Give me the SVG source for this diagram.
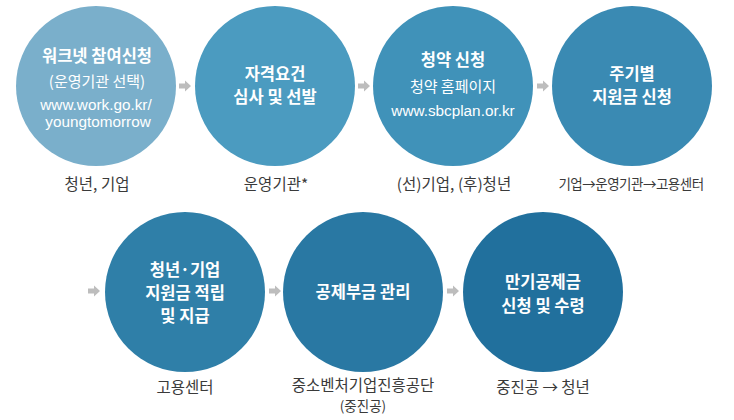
<svg xmlns="http://www.w3.org/2000/svg" width="734" height="420" viewBox="0 0 734 420">
<defs>
<style>
.t{font-family:"Noto Sans CJK KR","Liberation Sans",sans-serif;fill:#fff;text-anchor:middle}
.b{font-weight:bold;font-size:16.5px}
.n{font-size:15px}
.u{font-family:"Liberation Sans","Noto Sans CJK KR",sans-serif;font-size:15.3px;fill:#fff;text-anchor:middle}
.l{font-family:"Noto Sans CJK KR","Liberation Sans",sans-serif;fill:#3a3a3a;text-anchor:middle;font-size:15.5px}
.s{font-size:13.5px}
.ar{fill:#BDBDBD}
</style>
<path id="arr" d="M0,-2.5 H6 V-5.5 L12,0 L6,5.5 V2.5 H0 Z"/>
</defs>
<rect width="734" height="420" fill="#fff"/>
<g id="connectors" class="ar">
<use href="#arr" x="179" y="86"/>
<use href="#arr" x="358" y="86"/>
<use href="#arr" x="537" y="86"/>
<use href="#arr" x="88" y="291"/>
<use href="#arr" x="269" y="291"/>
<use href="#arr" x="447" y="291"/>
</g>
<g id="n1">
<circle cx="96" cy="86" r="80" fill="#7AAFCB"/>
<text class="t b" x="97" y="62">워크넷 참여신청</text>
<text class="t n" x="97" y="87">(운영기관 선택)</text>
<text class="u" x="96" y="110">www.work.go.kr/</text>
<text class="u" x="98" y="127">youngtomorrow</text>
<text class="l" x="97" y="190">청년, 기업</text>
</g>
<g id="n2">
<circle cx="275" cy="86" r="80" fill="#4B9BC0"/>
<text class="t b" x="275" y="80">자격요건</text>
<text class="t b" x="275" y="103">심사 및 선발</text>
<text class="l" x="276" y="190">운영기관*</text>
</g>
<g id="n3">
<circle cx="453" cy="86" r="80" fill="#4092B9"/>
<text class="t b" x="453" y="66">청약 신청</text>
<text class="t n" x="453" y="92">청약 홈페이지</text>
<text class="u" x="453" y="116">www.sbcplan.or.kr</text>
<text class="l" x="454" y="190">(선)기업, (후)청년</text>
</g>
<g id="n4">
<circle cx="632" cy="86" r="80" fill="#3A8AB3"/>
<text class="t b" x="632" y="80">주기별</text>
<text class="t b" x="632" y="103">지원금 신청</text>
<text class="l s" x="631" y="189" letter-spacing="-0.5">기업→운영기관→고용센터</text>
</g>
<g id="n5">
<circle cx="185" cy="292" r="80" fill="#2F7FA8"/>
<text class="t b" x="185" y="276">청년·기업</text>
<text class="t b" x="185" y="299">지원금 적립</text>
<text class="t b" x="185" y="322">및 지급</text>
<text class="l" x="185" y="393">고용센터</text>
</g>
<g id="n6">
<circle cx="363" cy="292" r="80" fill="#2978A3"/>
<text class="t b" x="363" y="298">공제부금 관리</text>
<text class="l" x="363" y="391">중소벤처기업진흥공단</text>
<text class="l s" x="363" y="411">(중진공)</text>
</g>
<g id="n7">
<circle cx="543" cy="292" r="80" fill="#21709D"/>
<text class="t b" x="543" y="288">만기공제금</text>
<text class="t b" x="543" y="312">신청 및 수령</text>
<text class="l" x="543" y="393">중진공 → 청년</text>
</g>
</svg>
